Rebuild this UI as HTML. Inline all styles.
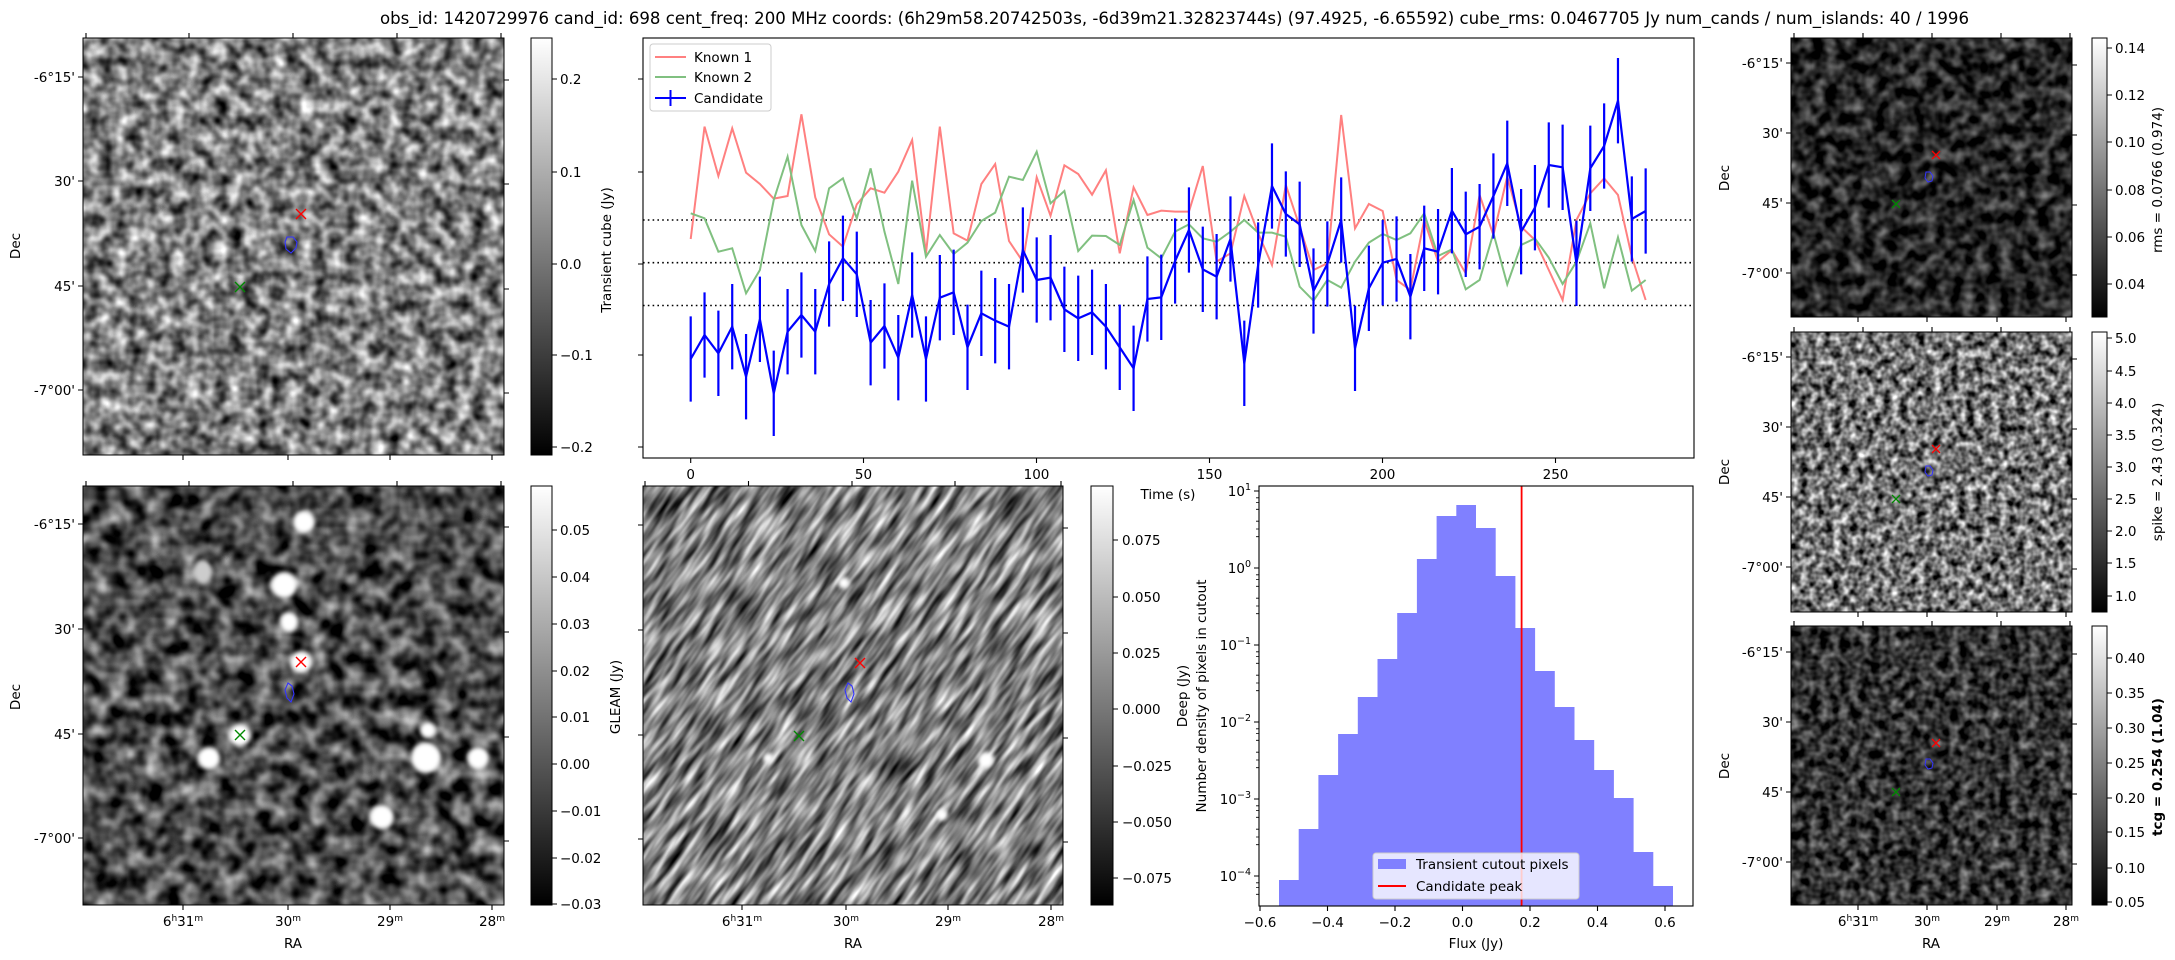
<!DOCTYPE html>
<html><head><meta charset="utf-8"><style>
html,body{margin:0;padding:0;background:#fff;width:2175px;height:960px;overflow:hidden}
svg{display:block}
text{font-family:"DejaVu Sans","Liberation Sans",sans-serif;fill:#000}
.t{font-size:13.5px}
filter{color-interpolation-filters:sRGB}
</style></head><body>
<svg width="2175" height="960" viewBox="0 0 2175 960" xmlns="http://www.w3.org/2000/svg">
<defs>
<filter id="fA" x="0" y="0" width="1" height="1" color-interpolation-filters="sRGB"><feTurbulence type="fractalNoise" baseFrequency="0.07" numOctaves="2" seed="3"/><feColorMatrix type="matrix" values="1.4 0 0 0 -0.2  1.4 0 0 0 -0.2  1.4 0 0 0 -0.2  0 0 0 0 1"/></filter>
<filter id="fG" x="0" y="0" width="1" height="1" color-interpolation-filters="sRGB"><feTurbulence type="fractalNoise" baseFrequency="0.055" numOctaves="2" seed="7"/><feColorMatrix type="matrix" values="1.3 0 0 0 -0.35  1.3 0 0 0 -0.35  1.3 0 0 0 -0.35  0 0 0 0 1"/></filter>
<filter id="fS" x="0" y="0" width="1" height="1" color-interpolation-filters="sRGB"><feTurbulence type="fractalNoise" baseFrequency="0.025 0.13" numOctaves="2" seed="11"/><feColorMatrix type="matrix" values="1.4 0 0 0 -0.2  1.4 0 0 0 -0.2  1.4 0 0 0 -0.2  0 0 0 0 1"/></filter>
<filter id="fR" x="0" y="0" width="1" height="1" color-interpolation-filters="sRGB"><feTurbulence type="fractalNoise" baseFrequency="0.08" numOctaves="2" seed="5"/><feColorMatrix type="matrix" values="0.9 0 0 0 -0.3  0.9 0 0 0 -0.3  0.9 0 0 0 -0.3  0 0 0 0 1"/></filter>
<filter id="fP" x="0" y="0" width="1" height="1" color-interpolation-filters="sRGB"><feTurbulence type="fractalNoise" baseFrequency="0.12" numOctaves="2" seed="9"/><feColorMatrix type="matrix" values="1.6 0 0 0 -0.35  1.6 0 0 0 -0.35  1.6 0 0 0 -0.35  0 0 0 0 1"/></filter>
<filter id="fT" x="0" y="0" width="1" height="1" color-interpolation-filters="sRGB"><feTurbulence type="fractalNoise" baseFrequency="0.1" numOctaves="2" seed="13"/><feColorMatrix type="matrix" values="1.0 0 0 0 -0.3  1.0 0 0 0 -0.3  1.0 0 0 0 -0.3  0 0 0 0 1"/></filter>
<filter id="bl"><feGaussianBlur stdDeviation="2"/></filter>
<clipPath id="cM"><rect x="643" y="486" width="420" height="419"/></clipPath>
<linearGradient id="gr" x1="0" y1="1" x2="0" y2="0"><stop offset="0" stop-color="#000"/><stop offset="1" stop-color="#fff"/></linearGradient>
</defs>

<text x="380" y="24" font-size="16.5" textLength="1589" lengthAdjust="spacingAndGlyphs">obs_id: 1420729976 cand_id: 698 cent_freq: 200 MHz coords: (6h29m58.20742503s, -6d39m21.32823744s) (97.4925, -6.65592) cube_rms: 0.0467705 Jy num_cands / num_islands: 40 / 1996</text>

<!-- Panel A -->
<rect x="83" y="38" width="421" height="417" fill="#777" filter="url(#fA)"/>
<rect x="83" y="38" width="421" height="417" fill="none" stroke="#000" stroke-width="1"/>
<g stroke="#000" stroke-width="1.1">
<path d="M86,33V38M189,33V38M293,33V38M397,33V38M501,33V38M183,455V460M288,455V460M390,455V460M492,455V460M78,77H83M78,181H83M78,286H83M78,390H83M504,80H509M504,184H509M504,289H509M504,393H509"/>
</g>
<g class="t" text-anchor="end"><text x="75" y="82">-6°15'</text><text x="75" y="186">30'</text><text x="75" y="291">45'</text><text x="75" y="395">-7°00'</text></g>
<text class="t" transform="translate(20,246) rotate(-90)" text-anchor="middle">Dec</text>
<path d="M296,209l10,10M306,209l-10,10" stroke="#f00" stroke-width="1.4"/>
<path d="M235,282l10,10M245,282l-10,10" stroke="#080" stroke-width="1.4"/>
<path d="M287,237l6,0l4,5l-1,6l-5,5l-5,-4l-1,-7z" fill="none" stroke="#33f" stroke-width="1.1"/>

<!-- Colorbar A -->
<rect x="531" y="38" width="21" height="417" fill="url(#gr)" stroke="#000" stroke-width="1"/>
<path d="M552,79h5M552,172h5M552,264h5M552,355h5M552,447h5" stroke="#000" stroke-width="1.1"/>
<g class="t"><text x="560" y="84">0.2</text><text x="560" y="177">0.1</text><text x="560" y="269">0.0</text><text x="560" y="360">−0.1</text><text x="560" y="452">−0.2</text></g>

<!-- Time series -->
<rect x="643" y="38" width="1051" height="420" fill="none" stroke="#000" stroke-width="1.1"/>
<path d="M638,79h5M638,172h5M638,264h5M638,355h5M638,447h5M690.7,458v5M863.5,458v5M1036.5,458v5M1209.5,458v5M1382.5,458v5M1555.5,458v5" stroke="#000" stroke-width="1.1"/>
<g class="t" text-anchor="middle"><text x="690.7" y="479">0</text><text x="863.5" y="479">50</text><text x="1036.5" y="479">100</text><text x="1209.5" y="479">150</text><text x="1382.5" y="479">200</text><text x="1555.5" y="479">250</text><text x="1168" y="499">Time (s)</text></g>
<text class="t" transform="translate(611,250) rotate(-90)" text-anchor="middle">Transient cube (Jy)</text>
<path d="M643,220H1694M643,262.7H1694M643,305.5H1694" stroke="#000" stroke-width="1.6" stroke-dasharray="1.6,3.2"/>
<g transform="translate(690.7,60) scale(13.84,0.33333)" fill="none">
<polyline vector-effect="non-scaling-stroke" stroke="#ff8080" stroke-width="2" points="0,537 1,200 2,348 3,205 4,338 5,372 6,416 7,408 8,163 9,412 10,523 11,560 12,433 13,385 14,398 15,335 16,240 17,580 18,200 19,520 20,542 21,372 22,312 23,543 24,605 25,352 26,467 27,316 28,342 29,404 30,331 31,580 32,382 33,465 34,452 35,455 36,455 37,318 38,605 39,580 40,408 41,520 42,615 43,375 44,500 45,630 46,610 47,165 48,505 49,432 50,453 51,660 52,690 53,480 54,605 55,570 56,640 57,405 58,525 59,350 60,500 61,540 62,630 63,720 64,480 65,400 66,355 67,405 68,590 69,720"/>
<polyline vector-effect="non-scaling-stroke" stroke="#80c080" stroke-width="2" points="0,460 1,475 2,575 3,565 4,700 5,630 6,420 7,290 8,495 9,573 10,385 11,355 12,475 13,325 14,515 15,672 16,362 17,590 18,525 19,582 20,548 21,483 22,458 23,350 24,360 25,275 26,430 27,393 28,573 29,527 30,528 31,555 32,420 33,563 34,595 35,515 36,493 37,535 38,545 39,515 40,480 41,518 42,518 43,530 44,680 45,722 46,660 47,683 48,605 49,548 50,522 51,540 52,520 53,460 54,588 55,568 56,688 57,660 58,520 59,673 60,555 61,535 62,593 63,672 64,605 65,490 66,685 67,532 68,692 69,660"/>
<polyline vector-effect="non-scaling-stroke" stroke="#00f" stroke-width="2.2" points="0,897 1,825 2,880 3,800 4,950 5,778 6,1000 7,815 8,765 9,815 10,672 11,595 12,643 13,848 14,798 15,893 16,705 17,897 18,713 19,697 20,862 21,760 22,782 23,800 24,570 25,660 26,653 27,748 28,775 29,757 30,800 31,862 32,925 33,717 34,712 35,603 36,510 37,628 38,650 39,537 40,910 41,615 42,378 43,462 44,493 45,693 46,612 47,480 48,865 49,685 50,608 51,597 52,710 53,565 54,575 55,452 56,523 57,500 58,408 59,310 60,515 61,443 62,315 63,322 64,610 65,325 66,258 67,122 68,477 69,453"/>
<path vector-effect="non-scaling-stroke" stroke="#00f" stroke-width="2.2" d="M0,769v256M1,697v256M2,752v256M3,672v256M4,822v256M5,650v256M6,872v256M7,687v256M8,637v256M9,687v256M10,544v256M11,467v256M12,515v256M13,720v256M14,670v256M15,765v256M16,577v256M17,769v256M18,585v256M19,569v256M20,734v256M21,632v256M22,654v256M23,672v256M24,442v256M25,532v256M26,525v256M27,620v256M28,647v256M29,629v256M30,672v256M31,734v256M32,797v256M33,589v256M34,584v256M35,475v256M36,382v256M37,500v256M38,522v256M39,409v256M40,782v256M41,487v256M42,250v256M43,334v256M44,365v256M45,565v256M46,484v256M47,352v256M48,737v256M49,557v256M50,480v256M51,469v256M52,582v256M53,437v256M54,447v256M55,324v256M56,395v256M57,372v256M58,280v256M59,182v256M60,387v256M61,315v256M62,187v256M63,194v256M64,482v256M65,197v256M66,130v256M67,-6v256M68,349v256M69,325v256"/>
</g>
<rect x="650" y="44" width="121" height="67" rx="3" fill="#fff" fill-opacity="0.8" stroke="#ccc"/>
<path d="M655,57h31" stroke="#ff8080" stroke-width="2"/>
<path d="M655,77h31" stroke="#80c080" stroke-width="2"/>
<path d="M655,98h31M670.5,90v16" stroke="#00f" stroke-width="2"/>
<g class="t"><text x="694" y="62">Known 1</text><text x="694" y="82">Known 2</text><text x="694" y="103">Candidate</text></g>

<!-- GLEAM panel -->
<rect x="83" y="486" width="421" height="419" fill="#555" filter="url(#fG)"/>
<g fill="#fff" filter="url(#bl)">
<ellipse cx="304" cy="522" rx="11" ry="11"/><ellipse cx="284" cy="585" rx="13" ry="13"/><ellipse cx="289" cy="622" rx="9" ry="10"/><ellipse cx="301" cy="662" rx="11" ry="11"/><ellipse cx="240" cy="735" rx="11" ry="11"/><ellipse cx="209" cy="758" rx="11" ry="11"/><ellipse cx="426" cy="758" rx="15" ry="15"/><ellipse cx="478" cy="758" rx="11" ry="11"/><ellipse cx="382" cy="817" rx="12" ry="12"/><ellipse cx="428" cy="730" rx="8" ry="8"/><ellipse cx="203" cy="572" rx="9" ry="12" fill="#ccc"/>
</g>
<rect x="83" y="486" width="421" height="419" fill="none" stroke="#000" stroke-width="1"/>
<path d="M86,481V486M189,481V486M293,481V486M397,481V486M501,481V486M183,905V910M288,905V910M390,905V910M492,905V910M78,524H83M78,629H83M78,734H83M78,838H83M504,527H509M504,632H509M504,737H509M504,841H509" stroke="#000" stroke-width="1.1"/>
<g class="t" text-anchor="end"><text x="75" y="529">-6°15'</text><text x="75" y="634">30'</text><text x="75" y="739">45'</text><text x="75" y="843">-7°00'</text></g>
<text class="t" transform="translate(20,697) rotate(-90)" text-anchor="middle">Dec</text>
<g class="t" text-anchor="middle">
<text x="183" y="926">6<tspan font-size="9" dy="-5">h</tspan><tspan dy="5">31</tspan><tspan font-size="9" dy="-5">m</tspan></text>
<text x="288" y="926">30<tspan font-size="9" dy="-5">m</tspan></text>
<text x="390" y="926">29<tspan font-size="9" dy="-5">m</tspan></text>
<text x="492" y="926">28<tspan font-size="9" dy="-5">m</tspan></text>
<text x="293" y="948">RA</text></g>
<path d="M296,657l10,10M306,657l-10,10" stroke="#f00" stroke-width="1.4"/>
<path d="M235,730l10,10M245,730l-10,10" stroke="#080" stroke-width="1.4"/>
<path d="M288,683l4,3l2,8l-3,8l-4,-4l-2,-8z" fill="none" stroke="#33f" stroke-width="1.1"/>
<rect x="531" y="486" width="21" height="419" fill="url(#gr)" stroke="#000" stroke-width="1"/>
<path d="M552,530h5M552,577h5M552,624h5M552,671h5M552,717h5M552,764h5M552,811h5M552,858h5M552,904h5" stroke="#000" stroke-width="1.1"/>
<g class="t"><text x="560" y="535">0.05</text><text x="560" y="582">0.04</text><text x="560" y="629">0.03</text><text x="560" y="676">0.02</text><text x="560" y="722">0.01</text><text x="560" y="769">0.00</text><text x="560" y="816">−0.01</text><text x="560" y="863">−0.02</text><text x="560" y="909">−0.03</text></g>
<text class="t" transform="translate(620,697) rotate(-90)" text-anchor="middle">GLEAM (Jy)</text>

<!-- Deep panel -->
<g clip-path="url(#cM)">
<rect x="643" y="486" width="420" height="419" fill="#808080"/>
<g transform="rotate(-55 853 695)"><rect x="453" y="295" width="800" height="800" fill="#777" filter="url(#fS)"/></g>
<g fill="#fff" filter="url(#bl)"><circle cx="844" cy="583" r="6"/><circle cx="986" cy="760" r="8"/><circle cx="942" cy="815" r="6"/><circle cx="768" cy="758" r="5"/></g>
</g>
<rect x="643" y="486" width="420" height="419" fill="none" stroke="#000" stroke-width="1"/>
<path d="M645,481V486M748.5,481V486M852,481V486M955,481V486M1061,481V486M742,905V910M846,905V910M948,905V910M1051,905V910M638,525H643M638,630H643M638,735H643M638,839H643M1063,528H1068M1063,633H1068M1063,738H1068M1063,842H1068" stroke="#000" stroke-width="1.1"/>
<g class="t" text-anchor="middle">
<text x="742" y="926">6<tspan font-size="9" dy="-5">h</tspan><tspan dy="5">31</tspan><tspan font-size="9" dy="-5">m</tspan></text>
<text x="846" y="926">30<tspan font-size="9" dy="-5">m</tspan></text>
<text x="948" y="926">29<tspan font-size="9" dy="-5">m</tspan></text>
<text x="1051" y="926">28<tspan font-size="9" dy="-5">m</tspan></text>
<text x="853" y="948">RA</text></g>
<path d="M855,658l10,10M865,658l-10,10" stroke="#f00" stroke-width="1.4"/>
<path d="M794,731l10,10M804,731l-10,10" stroke="#080" stroke-width="1.4"/>
<path d="M848,683l4,3l2,8l-3,8l-4,-4l-2,-8z" fill="none" stroke="#33f" stroke-width="1.1"/>
<rect x="1091" y="486" width="22" height="419" fill="url(#gr)" stroke="#000" stroke-width="1"/>
<path d="M1113,540h5M1113,597h5M1113,653h5M1113,709h5M1113,766h5M1113,822h5M1113,878h5" stroke="#000" stroke-width="1.1"/>
<g class="t"><text x="1122" y="545">0.075</text><text x="1122" y="602">0.050</text><text x="1122" y="658">0.025</text><text x="1122" y="714">0.000</text><text x="1122" y="771">−0.025</text><text x="1122" y="827">−0.050</text><text x="1122" y="883">−0.075</text></g>
<text class="t" transform="translate(1187,696) rotate(-90)" text-anchor="middle">Deep (Jy)</text>

<!-- Histogram -->
<path fill="#8080ff" d="M1279,906V880H1298.7V829H1318.4V775H1338.1V734H1357.8V697H1377.5V659H1397.2V613H1416.9V559H1436.6V516H1456.3V505H1476V528H1495.7V576H1515.4V628H1535.1V671H1554.8V707H1574.5V740H1594.2V770H1613.9V798H1633.6V852H1653.3V886H1673V906Z"/>
<path d="M1521.6,486V906" stroke="#f00" stroke-width="1.8"/>
<rect x="1259" y="486" width="434" height="420" fill="none" stroke="#000" stroke-width="1.1"/>
<path d="M1254,491h5M1254,568h5M1254,645h5M1254,722h5M1254,799h5M1254,876h5M1260,906v5M1327.5,906v5M1395,906v5M1462.5,906v5M1530,906v5M1597.5,906v5M1665,906v5" stroke="#000" stroke-width="1.1"/>
<path d="M1256,497.8h3M1256,502.6h3M1256,509.3h3M1256,521.2h3M1256,529h3M1256,536.7h3M1256,574.8h3M1256,579.6h3M1256,586.3h3M1256,598.2h3M1256,606h3M1256,613.7h3M1256,651.8h3M1256,656.6h3M1256,663.3h3M1256,675.2h3M1256,683h3M1256,690.7h3M1256,728.8h3M1256,733.6h3M1256,740.3h3M1256,752.2h3M1256,760h3M1256,767.7h3M1256,805.8h3M1256,810.6h3M1256,817.3h3M1256,829.2h3M1256,837h3M1256,844.7h3M1256,882.8h3M1256,887.6h3M1256,894.3h3" stroke="#000" stroke-width="0.8"/>
<g class="t" text-anchor="end">
<text x="1251" y="496">10<tspan font-size="9.5" dy="-6">1</tspan></text>
<text x="1251" y="573">10<tspan font-size="9.5" dy="-6">0</tspan></text>
<text x="1251" y="650">10<tspan font-size="9.5" dy="-6">−1</tspan></text>
<text x="1251" y="727">10<tspan font-size="9.5" dy="-6">−2</tspan></text>
<text x="1251" y="804">10<tspan font-size="9.5" dy="-6">−3</tspan></text>
<text x="1251" y="881">10<tspan font-size="9.5" dy="-6">−4</tspan></text></g>
<g class="t" text-anchor="middle"><text x="1260" y="927">−0.6</text><text x="1327.5" y="927">−0.4</text><text x="1395" y="927">−0.2</text><text x="1462.5" y="927">0.0</text><text x="1530" y="927">0.2</text><text x="1597.5" y="927">0.4</text><text x="1665" y="927">0.6</text><text x="1476" y="948">Flux (Jy)</text></g>
<text class="t" transform="translate(1206,696) rotate(-90)" text-anchor="middle">Number density of pixels in cutout</text>
<rect x="1373" y="853" width="206" height="46" rx="3" fill="#fff" fill-opacity="0.8" stroke="#ccc"/>
<rect x="1378" y="859" width="28" height="10" fill="#8080ff"/>
<path d="M1378,886h28" stroke="#f00" stroke-width="2"/>
<g class="t"><text x="1416" y="869">Transient cutout pixels</text><text x="1416" y="891">Candidate peak</text></g>

<!-- Right column -->
<rect x="1791" y="38" width="281" height="279" fill="#222" filter="url(#fR)"/>
<rect x="1791" y="332" width="281" height="280" fill="#777" filter="url(#fP)"/>
<rect x="1791" y="626" width="281" height="279" fill="#333" filter="url(#fT)"/>
<g fill="none" stroke="#000" stroke-width="1"><rect x="1791" y="38" width="281" height="279"/><rect x="1791" y="332" width="281" height="280"/><rect x="1791" y="626" width="281" height="279"/></g>
<path d="M1794,33v5M1863,33v5M1932,33v5M2001,33v5M2070,33v5M1858,317v5M1927,317v5M1997,317v5M2066,317v5M1794,327v5M1863,327v5M1932,327v5M2001,327v5M2070,327v5M1858,612v5M1927,612v5M1997,612v5M2066,612v5M1794,621v5M1863,621v5M1932,621v5M2001,621v5M2070,621v5M1858,905v5M1927,905v5M1997,905v5M2066,905v5M1786,63h5M1786,133h5M1786,203h5M1786,273h5M1786,357h5M1786,427h5M1786,497h5M1786,567h5M1786,652h5M1786,722h5M1786,792h5M1786,862h5M2072,65h5M2072,135h5M2072,205h5M2072,275h5M2072,359h5M2072,429h5M2072,499h5M2072,569h5M2072,654h5M2072,724h5M2072,794h5M2072,864h5" stroke="#000" stroke-width="1.1"/>
<g class="t" text-anchor="end">
<text x="1783" y="68">-6°15'</text><text x="1783" y="138">30'</text><text x="1783" y="208">45'</text><text x="1783" y="278">-7°00'</text>
<text x="1783" y="362">-6°15'</text><text x="1783" y="432">30'</text><text x="1783" y="502">45'</text><text x="1783" y="572">-7°00'</text>
<text x="1783" y="657">-6°15'</text><text x="1783" y="727">30'</text><text x="1783" y="797">45'</text><text x="1783" y="867">-7°00'</text></g>
<g class="t" text-anchor="middle">
<text transform="translate(1729,178) rotate(-90)">Dec</text><text transform="translate(1729,472) rotate(-90)">Dec</text><text transform="translate(1729,766) rotate(-90)">Dec</text>
<text x="1858" y="926">6<tspan font-size="9" dy="-5">h</tspan><tspan dy="5">31</tspan><tspan font-size="9" dy="-5">m</tspan></text>
<text x="1927" y="926">30<tspan font-size="9" dy="-5">m</tspan></text>
<text x="1997" y="926">29<tspan font-size="9" dy="-5">m</tspan></text>
<text x="2066" y="926">28<tspan font-size="9" dy="-5">m</tspan></text>
<text x="1931" y="948">RA</text></g>
<g stroke-width="1.3">
<path d="M1932,151l8,8M1940,151l-8,8M1932,445l8,8M1940,445l-8,8M1932,739l8,8M1940,739l-8,8" stroke="#f00"/>
<path d="M1892,200l8,8M1900,200l-8,8M1892,495l8,8M1900,495l-8,8M1892,788l8,8M1900,788l-8,8" stroke="#080"/>
<path d="M1926,172l4,0l3,4l-1,5l-4,1l-3,-4zM1926,466l4,0l3,4l-1,5l-4,1l-3,-4zM1926,759l4,0l3,4l-1,5l-4,1l-3,-4z" fill="none" stroke="#33f" stroke-width="1"/>
</g>
<g fill="url(#gr)" stroke="#000" stroke-width="1"><rect x="2092" y="38" width="15" height="279"/><rect x="2092" y="332" width="15" height="280"/><rect x="2092" y="626" width="15" height="279"/></g>
<path d="M2107,48h5M2107,95h5M2107,142h5M2107,190h5M2107,237h5M2107,284h5M2107,338h5M2107,371h5M2107,403h5M2107,435h5M2107,467h5M2107,499h5M2107,531h5M2107,563h5M2107,596h5M2107,658h5M2107,693h5M2107,728h5M2107,763h5M2107,798h5M2107,832h5M2107,868h5M2107,902h5" stroke="#000" stroke-width="1.1"/>
<g class="t">
<text x="2115" y="53">0.14</text><text x="2115" y="100">0.12</text><text x="2115" y="147">0.10</text><text x="2115" y="195">0.08</text><text x="2115" y="242">0.06</text><text x="2115" y="289">0.04</text>
<text x="2115" y="343">5.0</text><text x="2115" y="376">4.5</text><text x="2115" y="408">4.0</text><text x="2115" y="440">3.5</text><text x="2115" y="472">3.0</text><text x="2115" y="504">2.5</text><text x="2115" y="536">2.0</text><text x="2115" y="568">1.5</text><text x="2115" y="601">1.0</text>
<text x="2115" y="663">0.40</text><text x="2115" y="698">0.35</text><text x="2115" y="733">0.30</text><text x="2115" y="768">0.25</text><text x="2115" y="803">0.20</text><text x="2115" y="837">0.15</text><text x="2115" y="873">0.10</text><text x="2115" y="907">0.05</text></g>
<g class="t" text-anchor="middle">
<text transform="translate(2162,180) rotate(-90)">rms = 0.0766 (0.974)</text>
<text transform="translate(2162,472) rotate(-90)">spike = 2.43 (0.324)</text>
<text transform="translate(2162,767) rotate(-90)" font-weight="bold">tcg = 0.254 (1.04)</text></g>
</svg>
</body></html>
